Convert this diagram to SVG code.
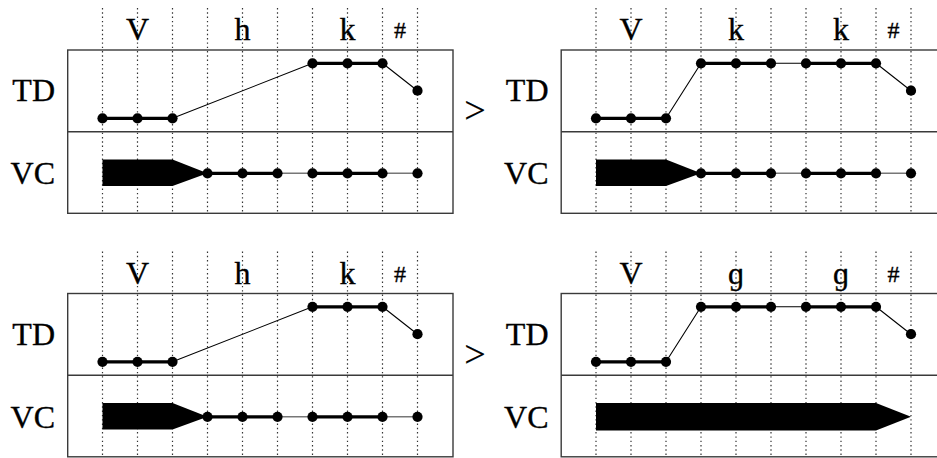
<svg xmlns="http://www.w3.org/2000/svg" xmlns:xlink="http://www.w3.org/1999/xlink" width="937" height="458" viewBox="0 0 937 458">
  <style>
    text { font-family: "Liberation Serif", "DejaVu Serif", serif; fill: #000; stroke: #000; stroke-width: 0.35; }
    .seg { font-size: 32px; text-anchor: middle; }
    .hash { font-size: 24px; text-anchor: middle; }
    .tier { font-size: 32px; text-anchor: end; }
    .gt { font-size: 38px; text-anchor: middle; stroke-width: 0.2; }
    .frame { fill: none; stroke: #3a3a3a; stroke-width: 1.4; }
    .grid { stroke: #333; stroke-width: 1.2; stroke-dasharray: 1.4 2.9; fill: none; }
    .thick { stroke: #000; stroke-width: 3.2; fill: none; }
    .thin { stroke: #000; stroke-width: 1.1; fill: none; }
    .thinv { stroke: #777; stroke-width: 1.4; fill: none; }
    .blob { fill: #000; stroke: none; }
  </style>
  <defs>
    <circle id="dot" r="5.1" fill="#000"/>
    <!-- tier frame with ten dotted timing lines -->
    <g id="frame">
      <rect class="frame" x="67.7" y="50" width="385.3" height="163.3"/>
      <line class="frame" x1="67.7" y1="131.7" x2="453" y2="131.7"/>
      <g class="grid">
        <line x1="102.5" y1="8" x2="102.5" y2="213"/>
        <line x1="137.5" y1="8" x2="137.5" y2="213"/>
        <line x1="172.5" y1="8" x2="172.5" y2="213"/>
        <line x1="207.5" y1="8" x2="207.5" y2="213"/>
        <line x1="242.5" y1="8" x2="242.5" y2="213"/>
        <line x1="277.5" y1="8" x2="277.5" y2="213"/>
        <line x1="312.5" y1="8" x2="312.5" y2="213"/>
        <line x1="347.5" y1="8" x2="347.5" y2="213"/>
        <line x1="382.5" y1="8" x2="382.5" y2="213"/>
        <line x1="417.5" y1="8" x2="417.5" y2="213"/>
      </g>
      <text class="tier" x="55" y="101">TD</text>
      <text class="tier" x="55" y="184">VC</text>
    </g>
    <!-- VC trace with voicing fading out after the vowel -->
    <g id="vc-fade">
      <path class="blob" d="M102.5,159.5 H172.5 L207.5,173.3 L172.5,186 H102.5 Z"/>
      <path class="thick" d="M207.5,173.3 H277.5 M312.5,173.3 H382.5"/>
      <path class="thinv" d="M277.5,173.3 H312.5 M382.5,173.3 H417.5"/>
      <use xlink:href="#dot" x="207.5" y="173.3"/>
      <use xlink:href="#dot" x="242.5" y="173.3"/>
      <use xlink:href="#dot" x="277.5" y="173.3"/>
      <use xlink:href="#dot" x="312.5" y="173.3"/>
      <use xlink:href="#dot" x="347.5" y="173.3"/>
      <use xlink:href="#dot" x="382.5" y="173.3"/>
      <use xlink:href="#dot" x="417.5" y="173.3"/>
    </g>
    <!-- TD trace: vowel, slow rise, closure, release -->
    <g id="td-h">
      <path class="thick" d="M102.5,118.3 H172.5 M312.5,63.3 H382.5"/>
      <path class="thin" d="M172.5,118.3 L312.5,63.3 M382.5,63.3 L417.5,90.7"/>
      <use xlink:href="#dot" x="102.5" y="118.3"/>
      <use xlink:href="#dot" x="137.5" y="118.3"/>
      <use xlink:href="#dot" x="172.5" y="118.3"/>
      <use xlink:href="#dot" x="312.5" y="63.3"/>
      <use xlink:href="#dot" x="347.5" y="63.3"/>
      <use xlink:href="#dot" x="382.5" y="63.3"/>
      <use xlink:href="#dot" x="417.5" y="90.7"/>
    </g>
    <!-- TD trace: vowel, fast rise, long closure, release -->
    <g id="td-kk">
      <path class="thick" d="M102.5,118.3 H172.5 M207.5,63.3 H277.5 M312.5,63.3 H382.5"/>
      <path class="thin" d="M172.5,118.3 L207.5,63.3 M277.5,63.3 H312.5 M382.5,63.3 L417.5,90.7"/>
      <use xlink:href="#dot" x="102.5" y="118.3"/>
      <use xlink:href="#dot" x="137.5" y="118.3"/>
      <use xlink:href="#dot" x="172.5" y="118.3"/>
      <use xlink:href="#dot" x="207.5" y="63.3"/>
      <use xlink:href="#dot" x="242.5" y="63.3"/>
      <use xlink:href="#dot" x="277.5" y="63.3"/>
      <use xlink:href="#dot" x="312.5" y="63.3"/>
      <use xlink:href="#dot" x="347.5" y="63.3"/>
      <use xlink:href="#dot" x="382.5" y="63.3"/>
      <use xlink:href="#dot" x="417.5" y="90.7"/>
    </g>
  </defs>

  <!-- upper row: V h k #  >  V k k # -->
  <g id="panel-vhk">
    <use xlink:href="#frame"/>
    <text class="seg" x="137.5" y="40">V</text>
    <text class="seg" x="242.5" y="40">h</text>
    <text class="seg" x="347.5" y="40">k</text>
    <text class="hash" x="400" y="38">#</text>
    <use xlink:href="#td-h"/>
    <use xlink:href="#vc-fade"/>
  </g>
  <text id="gt-top" class="gt" x="475" y="123">&gt;</text>
  <g id="panel-vkk" transform="translate(493.5,0)">
    <use xlink:href="#frame"/>
    <text class="seg" x="137.5" y="40">V</text>
    <text class="seg" x="242.5" y="40">k</text>
    <text class="seg" x="347.5" y="40">k</text>
    <text class="hash" x="400" y="38">#</text>
    <use xlink:href="#td-kk"/>
    <use xlink:href="#vc-fade"/>
  </g>

  <!-- lower row: V h k #  >  V g g # -->
  <g id="panel-vhk-2" transform="translate(0,243.5)">
    <use xlink:href="#frame"/>
    <text class="seg" x="137.5" y="40">V</text>
    <text class="seg" x="242.5" y="40">h</text>
    <text class="seg" x="347.5" y="40">k</text>
    <text class="hash" x="400" y="38">#</text>
    <use xlink:href="#td-h"/>
    <use xlink:href="#vc-fade"/>
  </g>
  <text id="gt-bottom" class="gt" x="475" y="366.5">&gt;</text>
  <g id="panel-vgg" transform="translate(493.5,243.5)">
    <use xlink:href="#frame"/>
    <text class="seg" x="137.5" y="40">V</text>
    <text class="seg" x="242.5" y="40">ɡ</text>
    <text class="seg" x="347.5" y="40">ɡ</text>
    <text class="hash" x="400" y="38">#</text>
    <use xlink:href="#td-kk"/>
    <path class="blob" d="M102.5,159.5 H382.5 L417.5,173.3 L382.5,187 H102.5 Z"/>
  </g>
</svg>
